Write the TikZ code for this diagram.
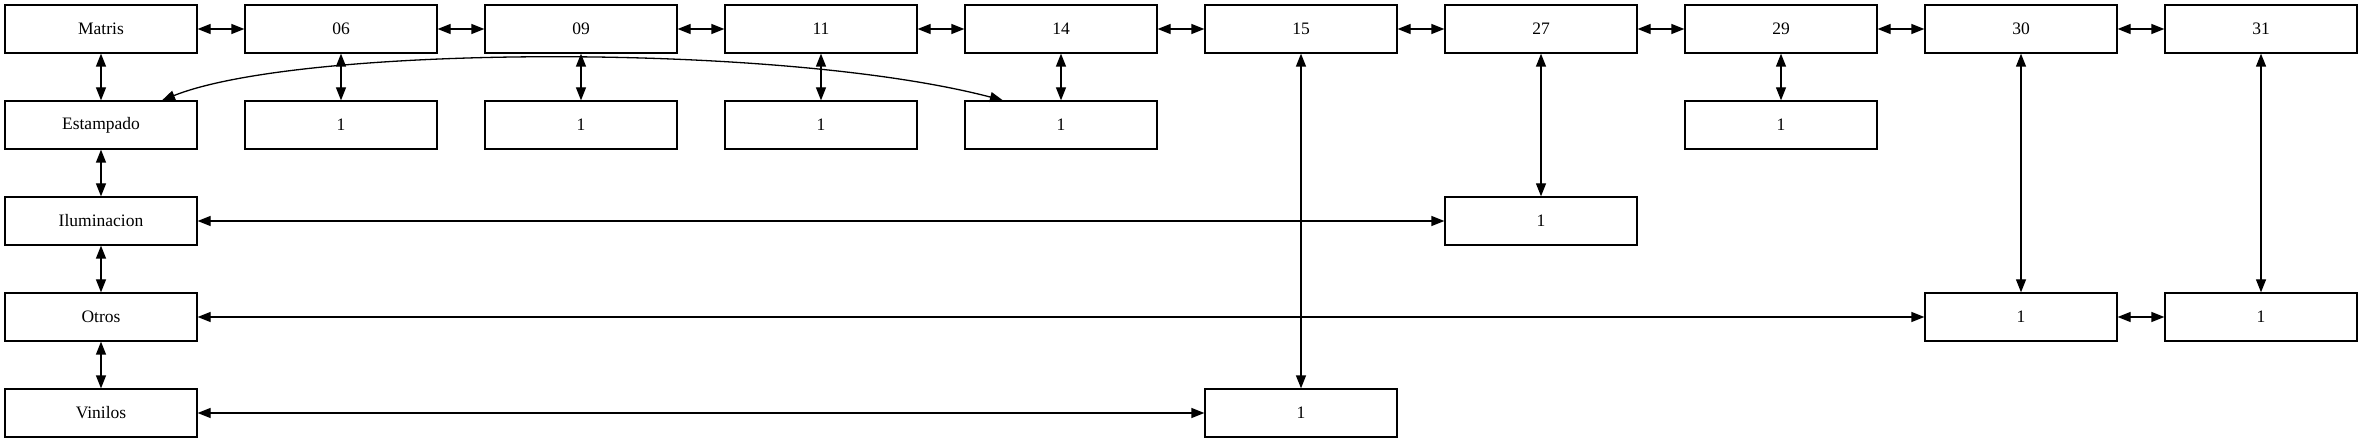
\documentclass[tikz,border=0pt]{standalone}
\usepackage{fontspec}
\setmainfont{Liberation Serif}
\usetikzlibrary{arrows.meta}
\begin{document}
\begin{tikzpicture}[x=1pt,y=-1pt,
  box/.style={draw,line width=1.3pt,minimum width=192pt,minimum height=48pt,inner sep=0pt,
    font=\fontsize{17.5}{20}\selectfont},
  link/.style={line width=1.3pt,{Triangle[length=13pt,width=10pt]}-{Triangle[length=13pt,width=10pt]}}]
\useasboundingbox (0,0) rectangle (2363,443);
\fill[white] (0,0) rectangle (2363,443);
% row 1
\node[box] (matris) at (101,29) {Matris};
\node[box] (c06) at (341,29) {06};
\node[box] (c09) at (581,29) {09};
\node[box] (c11) at (821,29) {11};
\node[box] (c14) at (1061,29) {14};
\node[box] (c15) at (1301,29) {15};
\node[box] (c27) at (1541,29) {27};
\node[box] (c29) at (1781,29) {29};
\node[box] (c30) at (2021,29) {30};
\node[box] (c31) at (2261,29) {31};
% row 2
\node[box] (est) at (101,125) {Estampado};
\node[box] (b06) at (341,125) {1};
\node[box] (b09) at (581,125) {1};
\node[box] (b11) at (821,125) {1};
\node[box] (b14) at (1061,125) {1};
\node[box] (b29) at (1781,125) {1};
% row 3
\node[box] (ilu) at (101,221) {Iluminacion};
\node[box] (b27) at (1541,221) {1};
% row 4
\node[box] (otros) at (101,317) {Otros};
\node[box] (b30) at (2021,317) {1};
\node[box] (b31) at (2261,317) {1};
% row 5
\node[box] (vin) at (101,413) {Vinilos};
\node[box] (b15) at (1301,413) {1};
% row 1 chain
\draw[link] (matris) -- (c06);
\draw[link] (c06) -- (c09);
\draw[link] (c09) -- (c11);
\draw[link] (c11) -- (c14);
\draw[link] (c14) -- (c15);
\draw[link] (c15) -- (c27);
\draw[link] (c27) -- (c29);
\draw[link] (c29) -- (c30);
\draw[link] (c30) -- (c31);
% left column
\draw[link] (matris) -- (est);
\draw[link] (est) -- (ilu);
\draw[link] (ilu) -- (otros);
\draw[link] (otros) -- (vin);
% verticals
\draw[link] (c06) -- (b06);
\draw[link] (c09) -- (b09);
\draw[link] (c11) -- (b11);
\draw[link] (c14) -- (b14);
\draw[link] (c29) -- (b29);
\draw[link] (c27) -- (b27);
\draw[link] (c30) -- (b30);
\draw[link] (c31) -- (b31);
\draw[link] (c15) -- (b15);
% horizontals
\draw[link] (ilu) -- (b27);
\draw[link] (otros) -- (b30);
\draw[link] (b30) -- (b31);
\draw[link] (vin) -- (b15);
% curve
\draw[link] (est.22) .. controls (300,45) and (780,42) .. (b14.157.5);
\end{tikzpicture}
\end{document}
